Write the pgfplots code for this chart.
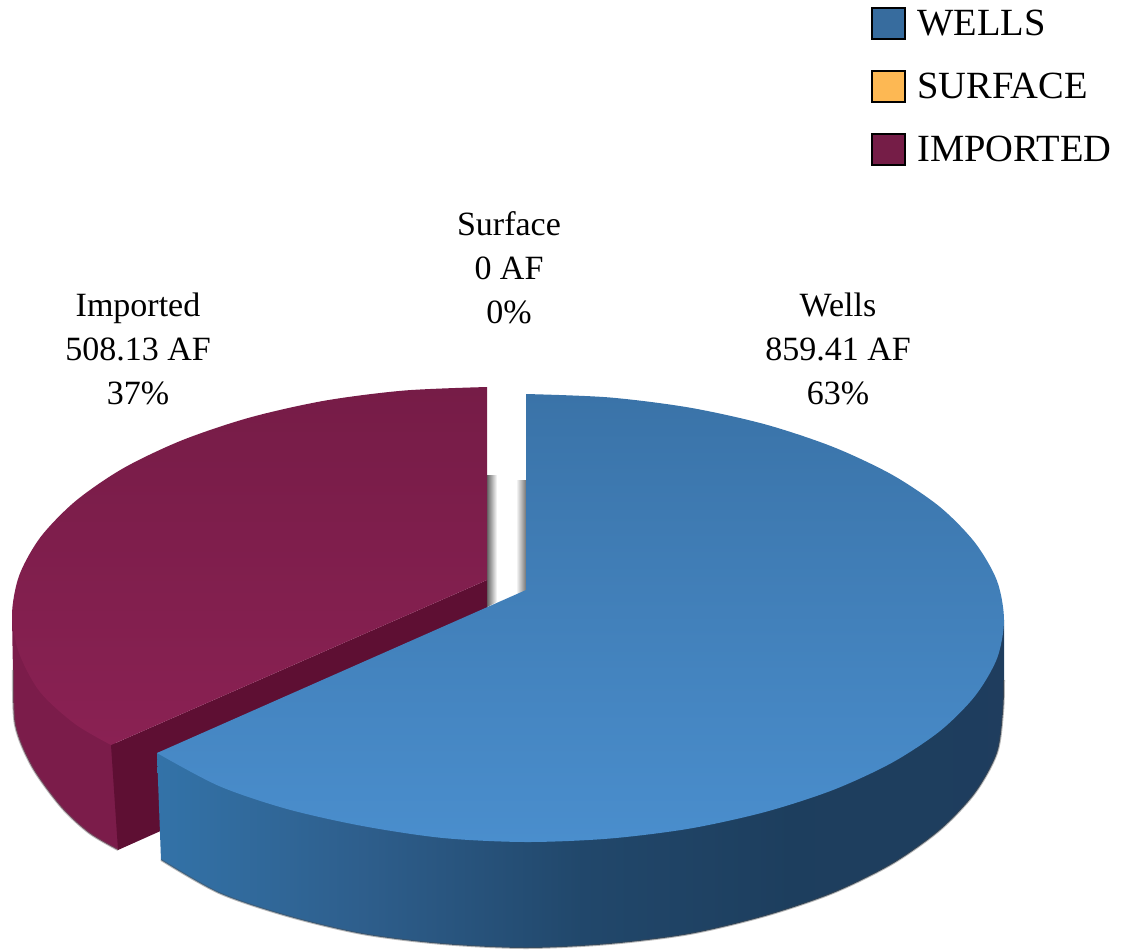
\documentclass[border=0pt]{standalone}
\usepackage{pgfplots}
\pgfplotsset{compat=1.18}
\usepackage{fontspec}
\setmainfont{Liberation Serif}
\definecolor{wellsC}{HTML}{376C9E}
\definecolor{surfC}{HTML}{FDB853}
\definecolor{impC}{HTML}{751D47}
\definecolor{wTopA}{HTML}{3A73A8}
\definecolor{wTopB}{HTML}{4A8ECD}
\definecolor{iTopA}{HTML}{761C47}
\definecolor{iTopB}{HTML}{8A2153}
\definecolor{iSide}{HTML}{7B1C4A}
\definecolor{iCut}{HTML}{5E0F33}
\pgfdeclarehorizontalshading{wside}{100bp}{
 rgb(0bp)=(0.20,0.45,0.66);rgb(25bp)=(0.20,0.45,0.66);rgb(37bp)=(0.18,0.37,0.55);rgb(50bp)=(0.13,0.28,0.42);rgb(62bp)=(0.115,0.245,0.37);rgb(75bp)=(0.12,0.24,0.37);rgb(100bp)=(0.12,0.24,0.37)}
\begin{document}
\begin{tikzpicture}
\begin{axis}[
  width=1122pt,height=951pt,scale only axis,
  xmin=0,xmax=1122,ymin=0,ymax=951,y dir=reverse,
  axis lines=none,clip=false,
  legend cell align=left,
  legend image code/.code={\draw[line width=2pt,#1] (0pt,-15.5pt) rectangle (33pt,15.5pt);},
  legend style={at={(axis cs:871,7)},anchor=north west,draw=none,fill=none,
    font=\fontsize{38.5}{40}\selectfont,row sep=30pt,column sep=10pt,inner sep=0pt,
    nodes={inner sep=1pt}},
]
\path (axis cs:0,0) rectangle (axis cs:1122,951);
\addlegendimage{draw=black,fill=wellsC}
\addlegendimage{draw=black,fill=surfC}
\addlegendimage{draw=black,fill=impC}
\legend{WELLS,SURFACE,IMPORTED}

% gap shadows
\addplot[forget plot,draw=none,left color=black!60,right color=white,no markers]
 coordinates {(487,475)(497,475)(497,602)(487,607)} -- cycle;
\addplot[forget plot,draw=none,left color=white,right color=black!60,no markers]
 coordinates {(516,480)(527,480)(527,590)(516,595)} -- cycle;

% Imported: side
\addplot[forget plot,draw=none,fill=iSide,no markers,smooth]
 coordinates {(12,615)(13,670)(15,725)(32,767)(61,807)(89,833)(118,850)} -- (axis cs:118,745) -- cycle;
\addplot[forget plot,draw=black!60,opacity=0.45,line width=2pt,no markers,smooth]
 coordinates {(13,670)(15,725)(32,767)(61,807)(89,833)(118,850)};
% Imported: cut face
\addplot[forget plot,draw=none,fill=iCut,no markers]
 coordinates {(487,580)(111,745)(118,850)(165,829)(165,760)(487,615)} -- cycle;
% Imported: top
\addplot[forget plot,draw=none,top color=iTopA,bottom color=iTopB,no markers,smooth]
 coordinates {(487,387)(404.5,390.5)(324.5,400.7)(249.5,417.6)(181.7,440.4)(123,468.4)(75.6,501)(40.6,537)(19.2,575.4)(12,615)(19,653)(40,692)(75,724)(111,745)} -- (axis cs:487,580) -- cycle;

% Wells: side
\addplot[forget plot,draw=none,shading=wside,no markers,smooth]
 coordinates {(1004,620)(1004,680)(1003,712)(997,753)(975,793)(940,830)(892,864)(833,893)(765,916)(689.5,934)(609,944)(526,948)(443,944)(362.5,934)(287,916)(219,893)(161,860)} -- (axis cs:157,753) -- (axis cs:560,700) -- cycle;
\addplot[forget plot,draw=black!70,opacity=0.4,line width=2pt,no markers,smooth]
 coordinates {(1004,680)(1003,712)(997,753)(975,793)(940,830)(892,864)(833,893)(765,916)(689.5,934)(609,944)(526,948)(443,944)(362.5,934)(287,916)(219,893)(161,860)};
% Wells: top
\addplot[forget plot,draw=none,top color=wTopA,bottom color=wTopB,no markers,smooth]
 coordinates {(526,394)(609,397.4)(689.5,407.6)(765,424.3)(833,446.9)(892,474.7)(940,507)(975,542.7)(997,580.8)(1004,620)(997,658.5)(975,696)(940,731)(892,762.7)(833,790)(765,812)(689.5,828.6)(609,838.6)(526,842)(443,838)(362.5,826)(287,809)(219,786)(157,753)} -- (axis cs:526,590) -- cycle;

\node[align=center,font=\fontsize{34}{44}\selectfont,anchor=center] at (axis cs:509,268) {Surface\\0 AF\\0\%};
\node[align=center,font=\fontsize{34}{44}\selectfont,anchor=center] at (axis cs:138,349) {Imported\\508.13 AF\\37\%};
\node[align=center,font=\fontsize{34}{44}\selectfont,anchor=center] at (axis cs:838,349) {Wells\\859.41 AF\\63\%};
\end{axis}
\end{tikzpicture}
\end{document}
